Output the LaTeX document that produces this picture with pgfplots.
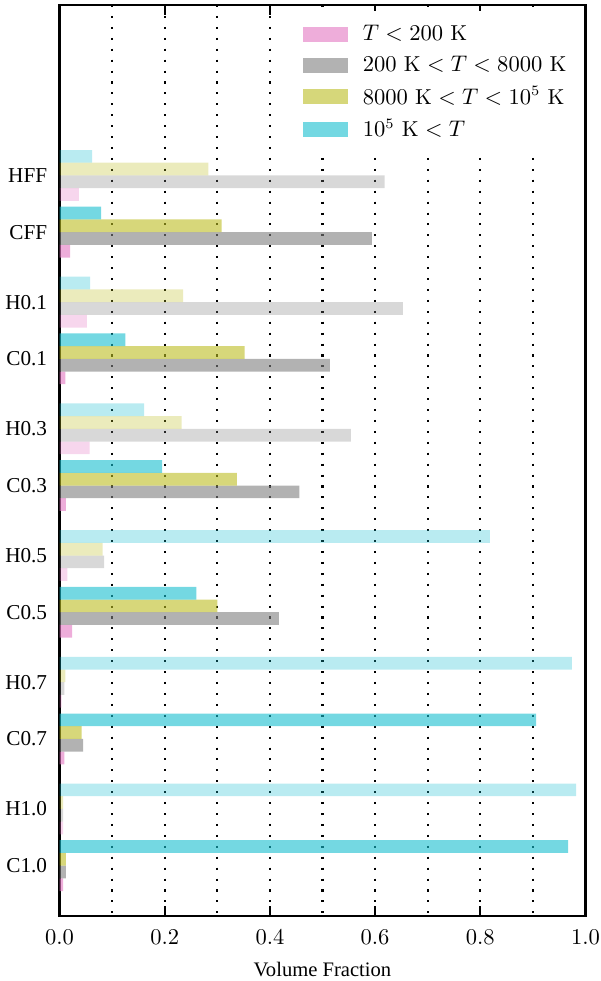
\documentclass[border=0pt]{standalone}
\usepackage{fontspec}
\usepackage{pgfplots}
\pgfplotsset{compat=1.18}
\newfontfamily\tnr{Liberation Serif}
\definecolor{tabpink}{RGB}{227,119,194}
\definecolor{tabgray}{RGB}{127,127,127}
\definecolor{tabolive}{RGB}{188,189,34}
\definecolor{tabcyan}{RGB}{23,190,207}
\pgfplotsset{
  mybar/.style={xbar, bar width=12.7, bar shift=0pt, draw=none},
  myleg/.style={legend image code/.code={\fill[##1] (0pt,-3.65pt) rectangle (21.8pt,3.65pt); \path (27.0pt,0pt);}},
}
\begin{document}
\begin{tikzpicture}
\begin{axis}[
  at={(28.9pt,31.55pt)}, anchor=south west,
  scale only axis, width=255.3pt, height=442.2pt,
  xmin=0, xmax=1, ymin=5, ymax=916, y dir=reverse,
  xtick={0,0.2,0.4,0.6,0.8,1.0},
  minor xtick={0.1,0.3,0.5,0.7,0.9},
  xmajorgrids, xminorgrids,
  grid style={black, line width=1pt, dash pattern=on 1pt off 4.3pt},
  minor x tick style={draw=none},
  major tick length=5pt, tick align=inside, xtick pos=both,
  x tick style={black, line width=0.8pt},
  ytick={175.4,232.1,302.1,358.8,428.8,485.5,555.5,612.2,682.2,738.9,808.9,865.6},
  yticklabels={HFF,CFF,H0.1,C0.1,H0.3,C0.3,H0.5,C0.5,H0.7,C0.7,H1.0,C1.0},
  y tick style={draw=none},
  yticklabel style={font=\fontsize{10.3}{12}\tnr, xshift=-2.5pt},
  xticklabel style={font=\fontsize{10.5}{12}\selectfont, yshift=-3pt, /pgf/number format/fixed, /pgf/number format/fixed zerofill, /pgf/number format/precision=1},
  xlabel={Volume Fraction},
  xlabel style={font=\fontsize{10}{12}\tnr, yshift=-2pt},
  axis line style={black, line width=1.2pt},
  legend style={at={(0.988,0.994)}, anchor=north east, fill=white, draw=none,
    font=\fontsize{10.5}{12.6}\selectfont, row sep=1.9pt, inner xsep=4pt, inner ysep=5pt},
  legend cell align=left,
]
\addplot[mybar, fill=tabpink, fill opacity=0.6, myleg]
  coordinates {(0.020,251.15) (0.011,377.85) (0.012,504.55) (0.024,631.25) (0.009,757.95) (0.007,884.65)};
\addlegendentry{$T < 200\ \mathrm{K}$}
\addplot[mybar, fill=tabgray, fill opacity=0.6, myleg]
  coordinates {(0.594,238.45) (0.514,365.15) (0.456,491.85) (0.417,618.55) (0.045,745.25) (0.012,871.95)};
\addlegendentry{$200\ \mathrm{K} < T < 8000\ \mathrm{K}$}
\addplot[mybar, fill=tabolive, fill opacity=0.6, myleg]
  coordinates {(0.308,225.75) (0.352,352.45) (0.337,479.15) (0.300,605.85) (0.042,732.55) (0.012,859.25)};
\addlegendentry{$8000\ \mathrm{K} < T < 10^5\ \mathrm{K}$}
\addplot[mybar, fill=tabcyan, fill opacity=0.6, myleg]
  coordinates {(0.079,213.05) (0.125,339.75) (0.195,466.45) (0.260,593.15) (0.906,719.85) (0.967,846.55)};
\addlegendentry{$10^5\ \mathrm{K} < T$}
% H runs (lighter)
\addplot[mybar, fill=tabpink, fill opacity=0.3, forget plot]
  coordinates {(0.037,194.45) (0.052,321.15) (0.057,447.85) (0.015,574.55) (0.004,701.25) (0.007,827.95)};
\addplot[mybar, fill=tabgray, fill opacity=0.3, forget plot]
  coordinates {(0.618,181.75) (0.653,308.45) (0.554,435.15) (0.085,561.85) (0.009,688.55) (0.007,815.25)};
\addplot[mybar, fill=tabolive, fill opacity=0.3, forget plot]
  coordinates {(0.283,169.05) (0.235,295.75) (0.232,422.45) (0.082,549.15) (0.011,675.85) (0.007,802.55)};
\addplot[mybar, fill=tabcyan, fill opacity=0.3, forget plot]
  coordinates {(0.062,156.35) (0.058,283.05) (0.161,409.75) (0.818,536.45) (0.974,663.15) (0.982,789.85)};
\end{axis}
\pgfresetboundingbox
\useasboundingbox (0,0) rectangle (291.3pt,476.2pt);
\end{tikzpicture}
\end{document}
